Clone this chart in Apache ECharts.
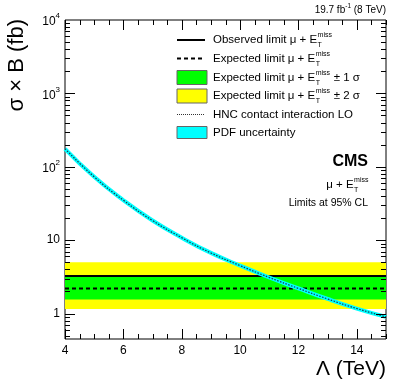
<!DOCTYPE html>
<html>
<head>
<meta charset="utf-8">
<script src="https://cdn.jsdelivr.net/npm/echarts@6/dist/echarts.min.js"></script>
<style>
  html, body { margin: 0; padding: 0; background: #fff; }
  #main { width: 407px; height: 391px; }
</style>
</head>
<body>
<div id="main"></div>
<script>
// Λ (TeV) points where the HNC contact interaction curve was read
var lambdaTeV = [4, 5, 6, 7, 8, 9, 10, 11, 12, 13, 14, 15];
// σ × B (fb), HNC contact interaction LO
var hncXsec = [176, 73, 35, 18.5, 10.8, 6.7, 4.5, 3.1, 2.2, 1.58, 1.17, 0.9];
// limits (fb), flat in Λ
var observedLimit = 3.25;
var expectedLimit = 2.2;
var band1Sigma = [1.55, 3.3];
var band2Sigma = [1.15, 5.0];
var xRange = [4, 15];
var yRange = [0.45, 10000];
var xTickLabels = [4, 6, 8, 10, 12, 14];

var FONT = '"Liberation Sans", Arial, sans-serif';

var chart = echarts.init(document.getElementById('main'));

var mctx = document.createElement('canvas').getContext('2d');
function textW (s, font) {
  mctx.font = font;
  return mctx.measureText(s).width;
}

// ticks (drawn through the axes with a custom series)
var xMinor = [];
for (var t = 4; t <= 15.001; t += 0.5) xMinor.push(t);
var yMajor = [1, 10, 100, 1000];
var yMinor = [];
for (var e = -1; e <= 3; e++) {
  for (var m = 2; m <= 9; m++) {
    var v = m * Math.pow(10, e);
    if (v >= yRange[0] && v <= yRange[1]) yMinor.push(v);
  }
}
var tickData = [];
xMinor.forEach(function (v) { tickData.push(['x', v, xTickLabels.indexOf(v) >= 0 ? 10 : 5]); });
yMajor.forEach(function (v) { tickData.push(['y', v, 10]); });
yMinor.forEach(function (v) { tickData.push(['y', v, 5]); });

function renderTick (params, api) {
  var d = tickData[params.dataIndex];
  var val = d[1], len = d[2];
  var children = [];
  var ls = { stroke: '#000', lineWidth: 1 };
  if (d[0] === 'x') {
    var b = api.coord([val, yRange[0]]);
    var tp = api.coord([val, yRange[1]]);
    var x = Math.round(b[0]) + 0.5;
    children.push({ type: 'line', shape: { x1: x, y1: b[1], x2: x, y2: b[1] - len }, style: ls });
    children.push({ type: 'line', shape: { x1: x, y1: tp[1], x2: x, y2: tp[1] + len }, style: ls });
  } else {
    var l = api.coord([xRange[0], val]);
    var r = api.coord([xRange[1], val]);
    var y = Math.round(l[1]) + 0.5;
    children.push({ type: 'line', shape: { x1: l[0], y1: y, x2: l[0] + len, y2: y }, style: ls });
    children.push({ type: 'line', shape: { x1: r[0], y1: y, x2: r[0] - len, y2: y }, style: ls });
  }
  return { type: 'group', children: children };
}

function isPow10 (v) {
  var lg = Math.log10(v);
  return Math.abs(lg - Math.round(lg)) < 1e-6;
}

// text with E^miss_T style super/subscript
function metLabel (x, y, prefix, suffix, size, align) {
  var f = size + 'px ' + FONT;
  var fs = Math.round(size * 0.62) + 'px ' + FONT;
  var wp = textW(prefix, f);
  var wm = textW('miss', fs);
  var ws = suffix ? textW(suffix, f) : 0;
  var x0 = align === 'right' ? x - (wp + wm + ws) : x;
  var els = [
    { type: 'text', x: x0, y: y, style: { text: prefix, font: f, fill: '#000', textVerticalAlign: 'middle', verticalAlign: 'middle' } },
    { type: 'text', x: x0 + wp + 0.5, y: y - size * 0.42, style: { text: 'miss', font: fs, fill: '#000', textVerticalAlign: 'middle', verticalAlign: 'middle' } },
    { type: 'text', x: x0 + wp + 0.5, y: y + size * 0.45, style: { text: 'T', font: fs, fill: '#000', textVerticalAlign: 'middle', verticalAlign: 'middle' } }
  ];
  if (suffix) {
    els.push({ type: 'text', x: x0 + wp + wm + 1, y: y, style: { text: suffix, font: f, fill: '#000', textVerticalAlign: 'middle', verticalAlign: 'middle' } });
  }
  return els;
}

var legX = 177, legTX = 213, legSize = 11.5;
var rowY = [40, 58.5, 77.5, 96, 114.5, 132.5];
var graphics = [];
// legend samples
graphics.push({ type: 'line', shape: { x1: legX, y1: rowY[0], x2: legX + 28, y2: rowY[0] }, style: { stroke: '#000', lineWidth: 2 } });
graphics.push({ type: 'line', shape: { x1: legX, y1: rowY[1], x2: legX + 28, y2: rowY[1] }, style: { stroke: '#000', lineWidth: 2, lineDash: [4, 3] } });
graphics.push({ type: 'rect', shape: { x: legX, y: rowY[2] - 7, width: 30, height: 14 }, style: { fill: '#00ff00', stroke: '#666', lineWidth: 1 } });
graphics.push({ type: 'rect', shape: { x: legX, y: rowY[3] - 7, width: 30, height: 14 }, style: { fill: '#ffff00', stroke: '#666', lineWidth: 1 } });
graphics.push({ type: 'line', shape: { x1: legX, y1: rowY[4], x2: legX + 28, y2: rowY[4] }, style: { stroke: '#333', lineWidth: 1, lineDash: [1, 1] } });
graphics.push({ type: 'rect', shape: { x: legX, y: rowY[5] - 6, width: 30, height: 12 }, style: { fill: '#00ffff', stroke: '#666', lineWidth: 1 } });
// legend texts
graphics = graphics.concat(metLabel(legTX, rowY[0], 'Observed limit \u03bc + E', '', legSize));
graphics = graphics.concat(metLabel(legTX, rowY[1], 'Expected limit \u03bc + E', '', legSize));
graphics = graphics.concat(metLabel(legTX, rowY[2], 'Expected limit \u03bc + E', ' \u00b1 1 \u03c3', legSize));
graphics = graphics.concat(metLabel(legTX, rowY[3], 'Expected limit \u03bc + E', ' \u00b1 2 \u03c3', legSize));
graphics.push({ type: 'text', x: legTX, y: rowY[4], style: { text: 'HNC contact interaction LO', font: legSize + 'px ' + FONT, fill: '#000', textVerticalAlign: 'middle', verticalAlign: 'middle' } });
graphics.push({ type: 'text', x: legTX, y: rowY[5], style: { text: 'PDF uncertainty', font: legSize + 'px ' + FONT, fill: '#000', textVerticalAlign: 'middle', verticalAlign: 'middle' } });

// CMS block
graphics.push({ type: 'text', x: 368, y: 162, style: { text: 'CMS', font: 'bold 16px ' + FONT, fill: '#000', textAlign: 'right', align: 'right', textVerticalAlign: 'middle', verticalAlign: 'middle' } });
graphics = graphics.concat(metLabel(368, 185, '\u03bc + E', '', 11.5, 'right'));
graphics.push({ type: 'text', x: 368, y: 203, style: { text: 'Limits at 95% CL', font: '10.5px ' + FONT, fill: '#000', textAlign: 'right', align: 'right', textVerticalAlign: 'middle', verticalAlign: 'middle' } });

// lumi label
(function () {
  var f = '10px ' + FONT, fs = '6.5px ' + FONT;
  var a = '19.7 fb', s = '-1', b = ' (8 TeV)';
  var w = textW(a, f) + textW(s, fs) + textW(b, f);
  var x0 = 386 - w;
  graphics.push({ type: 'text', x: x0, y: 10, style: { text: a, font: f, fill: '#000', textVerticalAlign: 'middle', verticalAlign: 'middle' } });
  graphics.push({ type: 'text', x: x0 + textW(a, f), y: 6, style: { text: s, font: fs, fill: '#000', textVerticalAlign: 'middle', verticalAlign: 'middle' } });
  graphics.push({ type: 'text', x: x0 + textW(a, f) + textW(s, fs), y: 10, style: { text: b, font: f, fill: '#000', textVerticalAlign: 'middle', verticalAlign: 'middle' } });
})();

// axis titles
graphics.push({ type: 'text', x: 386, y: 369, style: { text: '\u039b (TeV)', font: '21px ' + FONT, fill: '#000', textAlign: 'right', align: 'right', textVerticalAlign: 'middle', verticalAlign: 'middle' } });
graphics.push({ type: 'text', x: 17, y: 19, rotation: Math.PI / 2, style: { text: '\u03c3 \u00d7 B (fb)', font: '22px ' + FONT, fill: '#000', textAlign: 'right', align: 'right', textVerticalAlign: 'middle', verticalAlign: 'middle' } });

var hncData = lambdaTeV.map(function (x, i) { return [x, hncXsec[i]]; });

chart.setOption({
  animation: false,
  textStyle: { fontFamily: FONT },
  grid: { left: 65, right: 21, top: 20, bottom: 52, show: true, borderColor: '#000', borderWidth: 1, backgroundColor: 'transparent' },
  xAxis: {
    type: 'value', min: xRange[0], max: xRange[1], interval: 2,
    axisLine: { show: false }, axisTick: { show: false }, splitLine: { show: false },
    axisLabel: {
      color: '#000', fontSize: 12, fontFamily: FONT, margin: 6, showMaxLabel: false,
      formatter: function (v) { return xTickLabels.indexOf(v) >= 0 ? String(v) : ''; }
    }
  },
  yAxis: {
    type: 'log', logBase: 10, min: yRange[0], max: yRange[1],
    axisLine: { show: false }, axisTick: { show: false }, splitLine: { show: false },
    axisLabel: {
      color: '#000', fontSize: 12, fontFamily: FONT, margin: 5, showMinLabel: false,
      formatter: function (v) {
        if (!isPow10(v)) return '';
        var p = Math.round(Math.log10(v));
        if (p === 0) return '1';
        if (p === 1) return '10';
        return '{b|10}{s|' + p + '}';
      },
      rich: {
        b: { fontSize: 12, fontFamily: FONT, color: '#000', lineHeight: 16, verticalAlign: 'bottom' },
        s: { fontSize: 8, fontFamily: FONT, color: '#000', lineHeight: 8, verticalAlign: 'top' }
      }
    }
  },
  graphic: graphics,
  series: [
    {
      name: 'bands', type: 'line', data: [], silent: true,
      markArea: {
        silent: true,
        data: [
          [{ xAxis: xRange[0], yAxis: band2Sigma[1], itemStyle: { color: '#ffff00' } }, { xAxis: xRange[1], yAxis: band2Sigma[0] }],
          [{ xAxis: xRange[0], yAxis: band1Sigma[1], itemStyle: { color: '#00ff00' } }, { xAxis: xRange[1], yAxis: band1Sigma[0] }]
        ]
      }
    },
    {
      name: 'Observed limit', type: 'line', symbol: 'none', z: 3,
      data: [[xRange[0], observedLimit], [xRange[1], observedLimit]],
      lineStyle: { color: '#000', width: 2 }
    },
    {
      name: 'Expected limit', type: 'line', symbol: 'none', z: 3,
      data: [[xRange[0], expectedLimit], [xRange[1], expectedLimit]],
      lineStyle: { color: '#000', width: 2, type: [4, 3] }
    },
    {
      name: 'PDF uncertainty', type: 'line', symbol: 'none', smooth: true, z: 4,
      data: hncData,
      lineStyle: { color: '#00ffff', width: 4 }
    },
    {
      name: 'HNC contact interaction LO', type: 'line', symbol: 'none', smooth: true, z: 5,
      data: hncData,
      lineStyle: { color: '#1a3550', width: 1.2, type: [1.5, 1.5] }
    },
    {
      name: 'ticks', type: 'custom', silent: true, z: 6, clip: false,
      data: tickData.map(function (d) { return [d[0] === 'x' ? 0 : 1, d[1]]; }),
      renderItem: renderTick
    }
  ]
});
</script>
</body>
</html>
